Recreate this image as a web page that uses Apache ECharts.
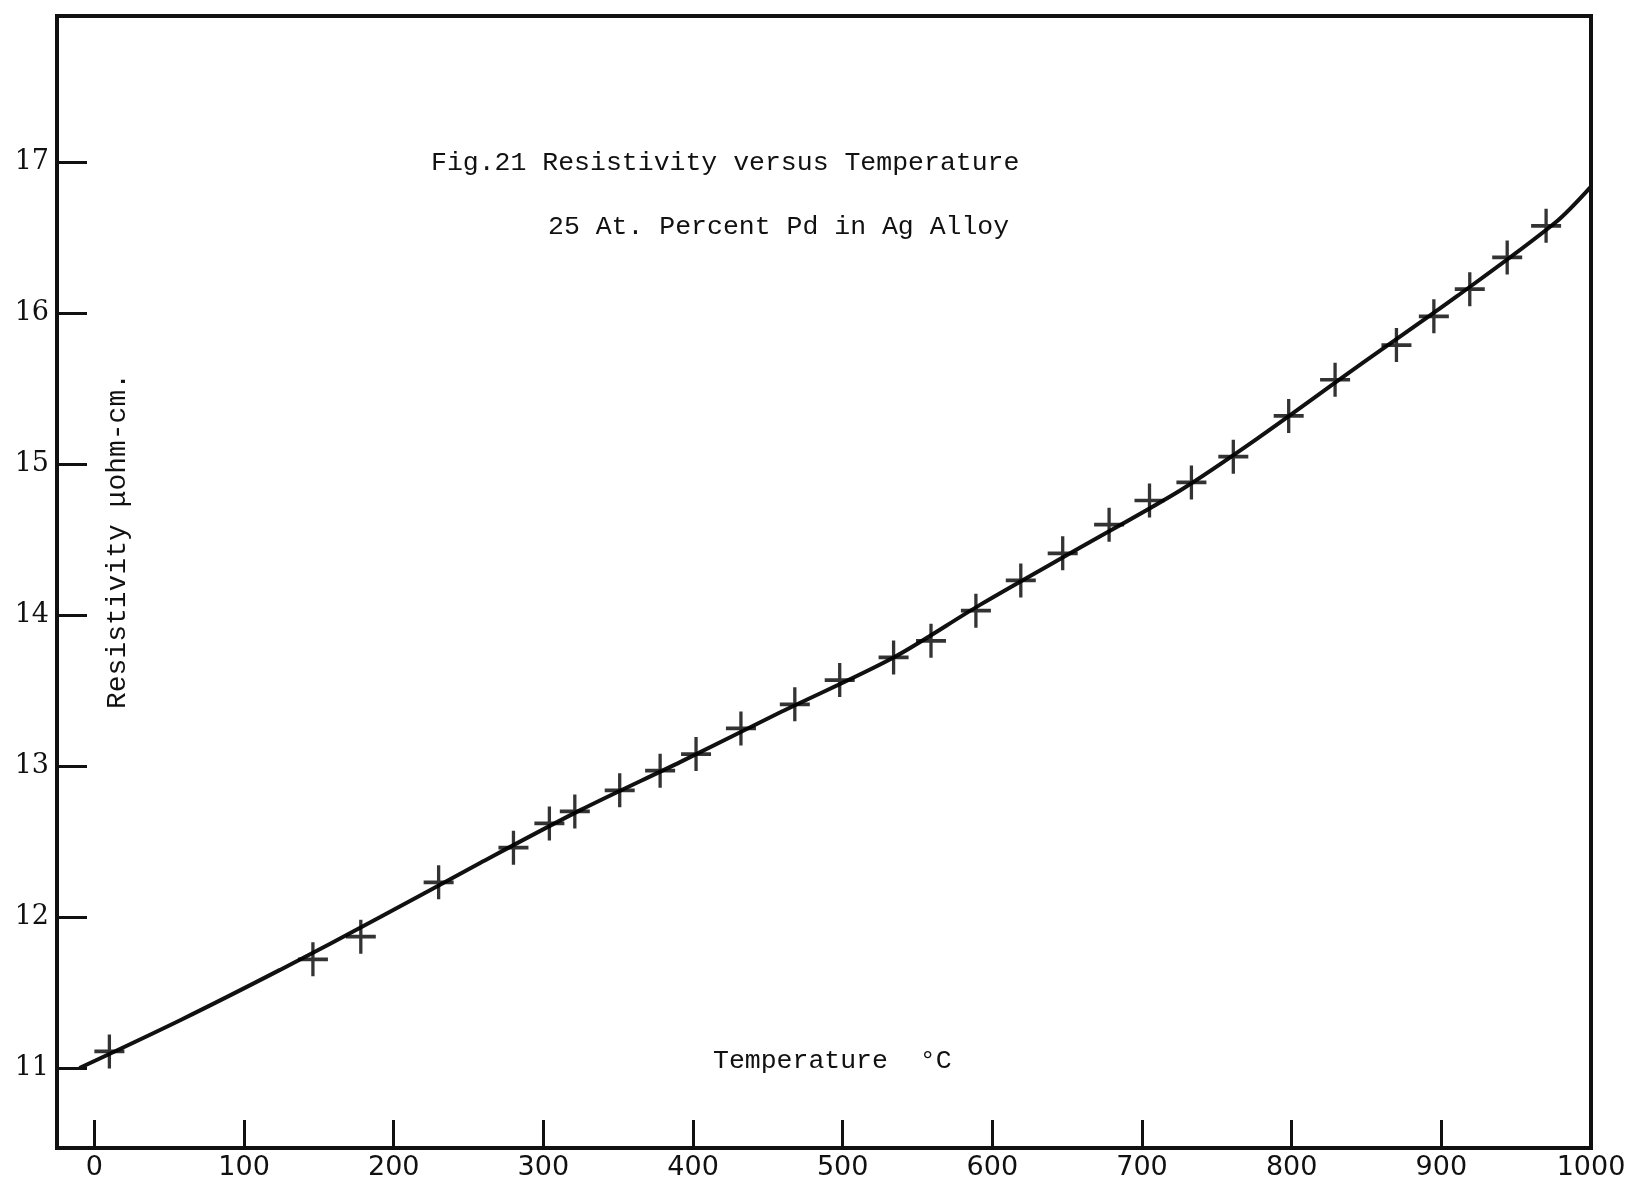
<!DOCTYPE html>
<html>
<head>
<meta charset="utf-8">
<script src="https://cdn.jsdelivr.net/npm/echarts@6/dist/echarts.min.js"></script>
<style>
  html, body { margin: 0; padding: 0; background: #ffffff; }
  #chart { width: 1634px; height: 1183px; }
</style>
</head>
<body>
<div id="chart"></div>
<script>
// Measured points (Temperature °C, Resistivity μohm-cm)
const tempPoints = [10, 146, 178, 230, 280, 304, 321, 351, 378, 402, 432, 468, 498, 534, 559, 589, 619, 647, 678, 705, 733, 761, 798, 829, 870, 895, 919, 944, 970];
const resPoints  = [11.11, 11.72, 11.87, 12.23, 12.46, 12.62, 12.70, 12.84, 12.97, 13.08, 13.25, 13.41, 13.57, 13.72, 13.83, 14.03, 14.23, 14.41, 14.60, 14.76, 14.88, 15.05, 15.32, 15.56, 15.79, 15.98, 16.16, 16.37, 16.58];

// Hand-drawn fitted curve
const curveTemp = [-10, 58, 124, 191, 258, 325, 392, 459, 534, 592, 659, 726, 777, 843, 910, 976, 1000];
const curveRes  = [11.0, 11.32, 11.65, 12.0, 12.36, 12.71, 13.03, 13.36, 13.72, 14.07, 14.45, 14.83, 15.17, 15.64, 16.11, 16.6, 16.84];

// Axis extents and texts
const xMin = -25, xMax = 1000;
const yMin = 10.47, yMax = 17.97;
const titleLine1 = 'Fig.21 Resistivity versus Temperature';
const titleLine2 = '25 At. Percent Pd in Ag Alloy';
const yTitle = 'Resistivity \u03bcohm-cm.';
const xTitle = 'Temperature  \u00b0C';

const ink = '#111111';
const chart = echarts.init(document.getElementById('chart'), null, { renderer: 'canvas' });

chart.setOption({
  backgroundColor: '#ffffff',
  animation: false,
  grid: {
    left: 57, right: 43, top: 16, bottom: 35,
    show: true, borderColor: ink, borderWidth: 4, backgroundColor: 'transparent'
  },
  xAxis: {
    type: 'value',
    min: xMin, max: xMax,
    minInterval: 100, maxInterval: 100, splitNumber: 10,
    axisLine: { show: true, onZero: false, lineStyle: { color: ink, width: 4 } },
    axisTick: { show: true, inside: true, length: 28, lineStyle: { color: ink, width: 3 } },
    splitLine: { show: false },
    axisLabel: {
      showMinLabel: false,
      margin: 6,
      color: ink,
      fontFamily: 'DejaVu Sans',
      fontSize: 27,
      formatter: v => String(v)
    }
  },
  yAxis: {
    type: 'value',
    min: yMin, max: yMax,
    minInterval: 1, maxInterval: 1, splitNumber: 7,
    axisLine: { show: true, onZero: false, lineStyle: { color: ink, width: 4 } },
    axisTick: { show: true, inside: true, length: 30, lineStyle: { color: ink, width: 3 } },
    splitLine: { show: false },
    axisLabel: {
      showMinLabel: false, showMaxLabel: false,
      margin: 8,
      color: ink,
      fontFamily: 'DejaVu Serif',
      fontSize: 27
    }
  },
  series: [
    {
      type: 'line',
      data: curveTemp.map((t, i) => [t, curveRes[i]]),
      smooth: 0.3,
      showSymbol: false,
      lineStyle: { color: ink, width: 4 },
      z: 2
    },
    {
      type: 'scatter',
      data: tempPoints.map((t, i) => [t, resPoints[i]]),
      symbol: 'path://M8.9,0h2.2v20h-2.2z M0,8.9h20v2.2h-20z',
      symbolSize: [30, 34],
      itemStyle: { color: '#000' },
      z: 3
    }
  ],
  graphic: [
    {
      type: 'text',
      style: {
        x: 431, y: 163, text: titleLine1,
        fontFamily: 'Liberation Mono', fontSize: 26.5,
        fill: ink, textAlign: 'left', textVerticalAlign: 'middle'
      }
    },
    {
      type: 'text',
      style: {
        x: 548, y: 227, text: titleLine2,
        fontFamily: 'Liberation Mono', fontSize: 26.5,
        fill: ink, textAlign: 'left', textVerticalAlign: 'middle'
      }
    },
    {
      type: 'text',
      x: 118, y: 541, rotation: Math.PI / 2,
      style: {
        x: 0, y: 0, text: yTitle,
        fontFamily: 'Liberation Mono', fontSize: 28,
        fill: ink, textAlign: 'center', textVerticalAlign: 'middle'
      }
    },
    {
      type: 'text',
      style: {
        x: 713, y: 1061, text: xTitle,
        fontFamily: 'Liberation Mono', fontSize: 26.5,
        fill: ink, textAlign: 'left', textVerticalAlign: 'middle'
      }
    }
  ]
});
</script>
</body>
</html>
